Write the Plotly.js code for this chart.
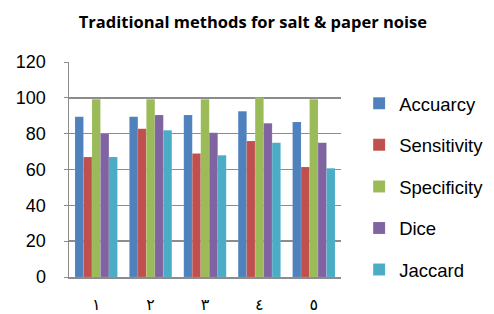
<!DOCTYPE html>
<html>
<head>
<meta charset="utf-8">
<script src="https://cdn.plot.ly/plotly-3.0.1.min.js"></script>
<style>html,body{margin:0;padding:0;background:#fff;}#chart{width:494px;height:314px;}</style>
</head>
<body>
<div id="chart"></div>
<script>
const categories = ["١", "٢", "٣", "٤", "٥"];
const seriesNames = ["Accuarcy", "Sensitivity", "Specificity", "Dice", "Jaccard"];
const accuracy = [89.5, 89.5, 90.4, 92.5, 86.5];
const sensitivity = [67, 82.8, 69, 75.9, 61.4];
const specificity = [99.2, 99.2, 99.2, 100, 99.2];
const dice = [80, 90.4, 80.5, 85.8, 75];
const jaccard = [67, 81.9, 68, 75, 60.7];
const colors = ["#4F81BD", "#C0504D", "#9BBB59", "#8064A2", "#4BACC6"];
const seriesValues = [accuracy, sensitivity, specificity, dice, jaccard];

const font = "Liberation Sans, Arial, sans-serif";
const traces = seriesValues.map((vals, i) => ({
  type: "bar",
  name: seriesNames[i],
  x: categories,
  y: vals,
  legendgroup: "g" + i,
  marker: {color: colors[i], line: {color: "rgba(255,255,255,0.35)", width: 0.3}},
  hoverinfo: "none"
}));

const layout = {
  width: 494, height: 314,
  margin: {l: 69, r: 153, t: 62, b: 37, pad: 0},
  paper_bgcolor: "#fff", plot_bgcolor: "#fff",
  barmode: "group", bargap: 0.22, bargroupgap: 0,
  title: {text: "<b>Traditional methods for salt & paper noise</b>", x: 0.512, xanchor: "center", y: 0.93, yanchor: "middle",
          font: {family: "Open Sans, sans-serif", size: 16.5, color: "#000"}},
  xaxis: {
    showgrid: false, showline: true, linecolor: "#8c8c8c", linewidth: 2,
    ticks: "", tickfont: {family: "DejaVu Sans, sans-serif", size: 16, color: "#000"},
    ticklabelstandoff: 12
  },
  yaxis: {
    range: [0, 120], dtick: 20, showgrid: true, gridcolor: "#8c8c8c", gridwidth: 1.5,
    showline: true, linecolor: "#8c8c8c", linewidth: 1.5, zeroline: false,
    ticks: "outside", ticklen: 4, tickcolor: "#8c8c8c",
    tickfont: {family: font, size: 18, color: "#000"}, ticklabelstandoff: 14
  },
  showlegend: true,
  legend: {xref: "container", yref: "container", x: 0.727, xanchor: "left", y: 0.73, yanchor: "top",
           maxheight: 300,
           font: {family: font, size: 18.5, color: "#000"},
           tracegroupgap: 14.5, itemwidth: 30, bgcolor: "rgba(0,0,0,0)"}
};

Plotly.newPlot("chart", traces, layout, {displayModeBar: false, staticPlot: true});
</script>
</body>
</html>
